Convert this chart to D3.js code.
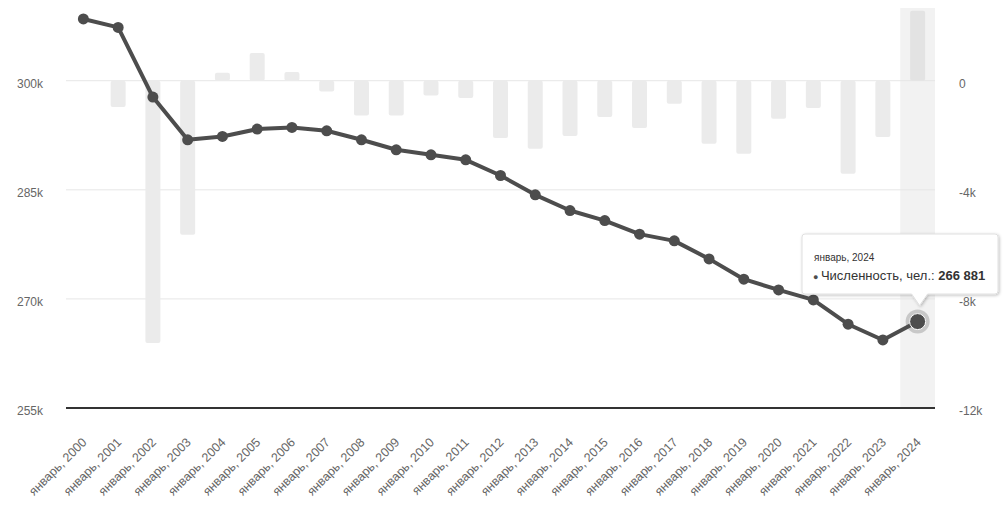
<!DOCTYPE html>
<html>
<head>
<meta charset="utf-8">
<script src="https://cdn.jsdelivr.net/npm/d3@7"></script>
<style>
  body { margin: 0; background: #fff; }
  svg { font-family: "Liberation Sans", Arial, sans-serif; }
  .tick text { fill: #666; font-size: 12px; }
</style>
</head>
<body>
<svg width="1006" height="521"></svg>
<script>
// Years on the x axis
let years = d3.range(2000, 2025);
// Population, persons (left axis, line)
let population = [308490, 307335, 297755, 291880, 292335, 293350, 293575, 293118, 291880, 290503,
                  289815, 289127, 286967, 284311, 282151, 280774, 278903, 277981, 275504, 272711,
                  271238, 269862, 266518, 264357, 266881];
// Yearly change, persons (right axis, bars)
let change = [0, -965, -9615, -5651, 294, 1017, 319, -393, -1273, -1273,
              -539, -635, -2103, -2495, -2029, -1332, -1736, -844, -2312, -2679,
              -1394, -1002, -3413, -2066, 2570];
// Tick values for both axes
let leftTicks = [255000, 270000, 285000, 300000];
let rightTicks = [-12000, -8000, -4000, 0];

let svg = d3.select("svg"),
    margin = {top: 8, right: 71, bottom: 113, left: 66},
    width = +svg.attr("width") - margin.left - margin.right,
    height = +svg.attr("height") - margin.top - margin.bottom;

let x = d3.scaleBand().domain(years).range([margin.left, margin.left + width]).padding(0);
let y = d3.scaleLinear().domain([255000, 310000]).range([margin.top + height, margin.top]);
//Right axis aligned on the same grid as the left one
let y2 = d3.scaleLinear().domain([-12000, -12000 + 55 / 15 * 4000]).range([margin.top + height, margin.top]);
let cx = d => x(d) + x.bandwidth() / 2;
let idx = d => years.indexOf(d);

//Shadow for the tooltip
let defs = svg.append("defs");
let filter = defs.append("filter").attr("id", "shadow").attr("x", "-20%").attr("y", "-20%").attr("width", "140%").attr("height", "160%");
filter.append("feDropShadow").attr("dx", 1).attr("dy", 1).attr("stdDeviation", 1.5).attr("flood-color", "#000").attr("flood-opacity", 0.25);

//Highlight band for the hovered year
let hovered = 2024;
svg.append("rect")
   .attr("x", x(hovered))
   .attr("y", margin.top)
   .attr("width", x.bandwidth())
   .attr("height", height)
   .attr("fill", "#f2f2f2");

//Grid lines
svg.append("g")
   .selectAll("line")
   .data(leftTicks.slice(1))
   .enter().append("line")
   .attr("x1", margin.left).attr("x2", margin.left + width)
   .attr("y1", d => y(d)).attr("y2", d => y(d))
   .attr("stroke", "#e6e6e6").attr("stroke-width", 1);

//Bars of yearly change
let barW = 15;
svg.append("g")
   .selectAll("rect")
   .data(years.filter(d => change[idx(d)] != 0))
   .enter().append("rect")
   .attr("x", d => cx(d) - barW / 2)
   .attr("width", barW)
   .attr("y", d => Math.min(y2(change[idx(d)]), y2(0)))
   .attr("height", d => Math.abs(y2(change[idx(d)]) - y2(0)))
   .attr("rx", 2)
   .attr("fill", d => d == hovered ? "#e3e3e3" : "#ebebeb");

//Bottom axis line
svg.append("line")
   .attr("x1", margin.left).attr("x2", margin.left + width)
   .attr("y1", y(255000)).attr("y2", y(255000))
   .attr("stroke", "#333").attr("stroke-width", 2);

//Left axis
let yAxis = d3.axisLeft(y).tickValues(leftTicks).tickSize(0).tickPadding(0)
              .tickFormat(d => (d / 1000) + "k");
svg.append("g")
   .attr("transform", "translate(" + (margin.left - 23) + ",3)")
   .call(yAxis)
   .call(g => g.select(".domain").remove());

//Right axis
let yAxis2 = d3.axisRight(y2).tickValues(rightTicks).tickSize(0).tickPadding(0)
               .tickFormat(d => d == 0 ? "0" : (d / 1000) + "k");
svg.append("g")
   .attr("transform", "translate(" + (margin.left + width + 24) + ",3)")
   .call(yAxis2)
   .call(g => g.select(".domain").remove());

//X labels rotated
svg.append("g")
   .selectAll("text")
   .data(years)
   .enter().append("text")
   .attr("text-anchor", "end")
   .attr("transform", d => "translate(" + (cx(d) + 4) + "," + (y(255000) + 35) + "), rotate(-45)")
   .attr("fill", "#666")
   .attr("font-size", "12.5px")
   .text(d => "январь, " + d);

//Population line
let line = d3.line().x(d => cx(d)).y(d => y(population[idx(d)]));
svg.append("path")
   .datum(years)
   .attr("d", line)
   .attr("fill", "none")
   .attr("stroke", "#4d4d4d")
   .attr("stroke-width", 4)
   .attr("stroke-linejoin", "round");

svg.append("g")
   .selectAll("circle")
   .data(years.filter(d => d != hovered))
   .enter().append("circle")
   .attr("cx", d => cx(d))
   .attr("cy", d => y(population[idx(d)]))
   .attr("r", 5.5)
   .attr("fill", "#4d4d4d");

//Hovered point with halo
let hi = idx(hovered);
svg.append("circle")
   .attr("cx", cx(hovered)).attr("cy", y(population[hi]))
   .attr("r", 12).attr("fill", "#4d4d4d").attr("fill-opacity", 0.25);
svg.append("circle")
   .attr("cx", cx(hovered)).attr("cy", y(population[hi]))
   .attr("r", 8).attr("fill", "#4d4d4d").attr("stroke", "#fff").attr("stroke-width", 1);

//Tooltip
let tx = 802, ty = 234, tw = 196, th = 60, tipX = cx(hovered) + 2, tipY = y(population[hi]) - 16, r = 3;
let tipPath = "M" + (tx + r) + "," + ty +
    "H" + (tx + tw - r) + "Q" + (tx + tw) + "," + ty + " " + (tx + tw) + "," + (ty + r) +
    "V" + (ty + th - r) + "Q" + (tx + tw) + "," + (ty + th) + " " + (tx + tw - r) + "," + (ty + th) +
    "H" + (tipX + 8) + "L" + tipX + "," + tipY + "L" + (tipX - 8) + "," + (ty + th) +
    "H" + (tx + r) + "Q" + tx + "," + (ty + th) + " " + tx + "," + (ty + th - r) +
    "V" + (ty + r) + "Q" + tx + "," + ty + " " + (tx + r) + "," + ty + "Z";
let tooltip = svg.append("g");
tooltip.append("path")
   .attr("d", tipPath)
   .attr("fill", "#fff")
   .attr("stroke", "#e0e0e0")
   .attr("stroke-width", 1)
   .attr("filter", "url(#shadow)");
tooltip.append("text")
   .attr("x", tx + 12).attr("y", ty + 27)
   .attr("font-size", "10px").attr("fill", "#333")
   .text("январь, " + hovered);
let t2 = tooltip.append("text")
   .attr("x", tx + 11).attr("y", ty + 46)
   .attr("font-size", "13px").attr("fill", "#333");
t2.append("tspan").attr("fill", "#4d4d4d").attr("font-size", "9px").text("● ");
t2.append("tspan").text("Численность, чел.: ");
t2.append("tspan").attr("font-weight", "bold")
  .text(d3.format(",")(population[hi]).replace(/,/g, " "));
</script>
</body>
</html>
